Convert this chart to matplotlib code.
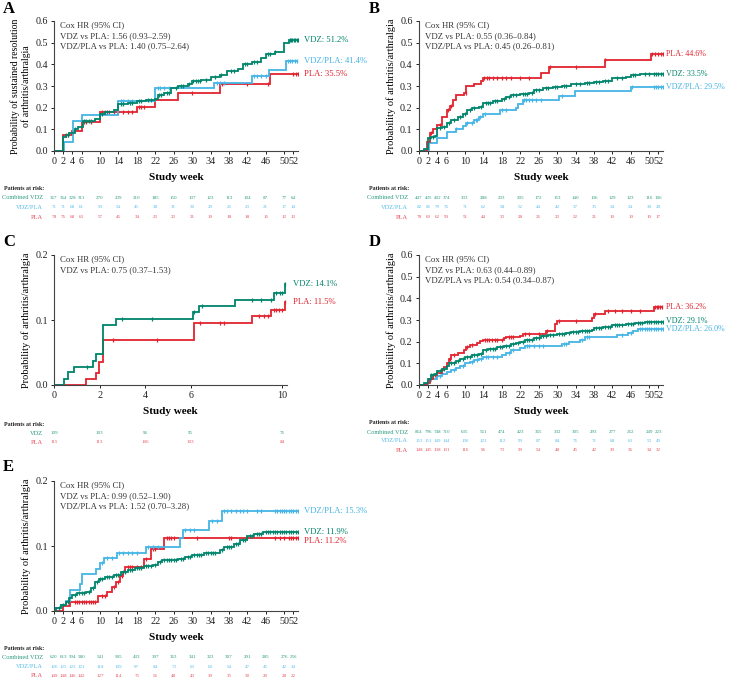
import numpy as np
import matplotlib
matplotlib.use("Agg")
import matplotlib.pyplot as plt
from matplotlib.transforms import blended_transform_factory

plt.rcParams['font.family'] = ['Liberation Serif', 'DejaVu Serif']

GREEN = '#00846b'
BLUE = '#45b4e6'
RED = '#e2232f'
TXT = '#333333'

# ---------------- Panel A ----------------
a_vdz_t = [0, 1.9, 2.5, 3.2, 4.5, 5.2, 6.2, 8.8, 10, 11, 13, 14, 16, 18, 20, 22, 22.5, 24, 25.5, 27, 29, 30, 32, 34, 36, 37.5, 40, 41, 43, 45, 46, 48, 50, 51, 53]
a_vdz_p = [0, 0.065, 0.075, 0.085, 0.10, 0.11, 0.14, 0.15, 0.17, 0.18, 0.19, 0.215, 0.22, 0.23, 0.235, 0.24, 0.26, 0.27, 0.29, 0.30, 0.31, 0.325, 0.33, 0.34, 0.35, 0.37, 0.38, 0.40, 0.41, 0.43, 0.45, 0.455, 0.50, 0.512, 0.512]
a_vdz_c = [3, 4.5, 6.5, 7, 7.5, 8, 10.5, 11.5, 14.5, 15, 16.5, 17, 18.5, 19, 20.5, 21, 22.8, 23.3, 24.5, 25, 26.5, 27.5, 28, 29.3, 30.3, 30.8, 31.3, 31.8, 33, 35, 36.3, 38.5, 39, 41.5, 42, 43.5, 44, 46.5, 47, 48, 51.2, 51.5, 51.8, 52.1, 52.4, 52.7, 53]
a_vp_t = [0, 2.1, 4.1, 6.0, 14, 22, 34.7, 43, 46.7, 50.3, 53]
a_vp_p = [0, 0.043, 0.138, 0.168, 0.23, 0.29, 0.315, 0.345, 0.375, 0.415, 0.415]
a_vp_c = [14.5, 15, 16, 17, 22.5, 23, 24, 25, 35.5, 36, 37, 43.5, 44, 45, 46, 50.8, 51.3, 51.8, 52.3, 52.8]
a_pla_t = [0, 2, 4, 6, 10, 18, 22, 27, 36, 47, 53]
a_pla_p = [0, 0.075, 0.093, 0.135, 0.18, 0.205, 0.235, 0.27, 0.31, 0.355, 0.355]
a_pla_c = [2.5, 3, 6.5, 7, 8, 10.5, 11, 12, 13, 14, 15, 16, 17, 18.5, 19, 19.5, 30, 36.5, 42, 46.5, 52, 52.5, 53]

# ---------------- Panel B ----------------
b_vdz_t = [0, 1, 2, 2.5, 3.5, 4, 5, 6, 7, 8.5, 9.5, 10.5, 11.5, 13, 14, 16, 18, 19, 20, 22, 24, 25, 27, 29, 31, 33, 36, 38, 40, 42, 45, 46, 48, 53]
b_vdz_p = [0, 0.01, 0.058, 0.065, 0.07, 0.105, 0.11, 0.13, 0.145, 0.155, 0.17, 0.19, 0.20, 0.205, 0.22, 0.23, 0.24, 0.25, 0.26, 0.265, 0.27, 0.28, 0.29, 0.295, 0.30, 0.31, 0.315, 0.32, 0.325, 0.335, 0.34, 0.35, 0.355, 0.355]
b_vdz_c = [2.3, 3, 4.5, 5.5, 6.5, 7.5, 9, 10, 11, 12, 13.5, 14.5, 15, 15.5, 16.5, 17, 18.5, 19.5, 20.5, 21, 22.5, 23, 23.5, 24.5, 25.5, 26, 27.5, 28, 29.5, 30, 31.5, 32, 34, 35, 36.5, 37, 38.5, 39, 40.5, 41, 43, 44, 46.5, 47, 49, 50, 51, 51.5, 52, 52.5, 53]
b_vp_t = [0, 2.2, 4, 6, 8, 9.5, 10.3, 12, 13, 14, 17.5, 21, 21.6, 22.5, 30.5, 33.8, 46, 53]
b_vp_p = [0, 0.035, 0.062, 0.086, 0.10, 0.115, 0.13, 0.145, 0.155, 0.17, 0.19, 0.20, 0.215, 0.235, 0.255, 0.277, 0.297, 0.297]
b_vp_c = [8, 10.5, 11.5, 12.3, 12.7, 13.3, 14.3, 18, 19, 22.8, 23.3, 23.8, 24.5, 25.5, 26.5, 31, 46.2, 51, 51.5, 52, 52.5, 53]
b_pla_t = [0, 1.8, 2.3, 3, 4, 5, 6, 6.7, 7.3, 8, 9.8, 10.3, 12, 13.5, 14, 26.5, 28.3, 40.3, 50.5, 53]
b_pla_p = [0, 0.04, 0.085, 0.10, 0.12, 0.155, 0.19, 0.21, 0.235, 0.258, 0.27, 0.30, 0.31, 0.325, 0.335, 0.362, 0.388, 0.418, 0.446, 0.446]
b_pla_c = [2.5, 4.5, 6.3, 7, 10.2, 14.2, 14.7, 15.2, 16, 17, 18, 19, 20, 22, 24, 28.5, 34, 40.5, 50.7, 51.3, 52, 52.5, 53]

# ---------------- Panel C ----------------
c_vdz_t = [0, 0.43, 0.62, 0.87, 1.72, 1.86, 2.13, 2.7, 6.1, 6.35, 7.95, 9.65, 10.12]
c_vdz_p = [0, 0.01, 0.02, 0.028, 0.037, 0.047, 0.093, 0.102, 0.112, 0.122, 0.131, 0.141, 0.155]
c_vdz_c = [1.45, 3.0, 4.3, 6.15, 6.5, 8.7, 9.1, 9.5, 9.75, 9.9, 10.0, 10.12]
c_pla_t = [0, 1.42, 1.86, 1.98, 2.15, 6.12, 8.7, 9.53, 10.12]
c_pla_p = [0, 0.009, 0.018, 0.035, 0.07, 0.096, 0.106, 0.115, 0.127]
c_pla_c = [2.6, 4.5, 6.4, 7.3, 7.45, 9.0, 9.2, 9.4, 9.65, 9.75, 9.85, 9.98, 10.12]

# ---------------- Panel D ----------------
d_vdz_t = [0, 1, 2, 2.5, 3.5, 4, 5, 6, 6.5, 8, 9, 10, 11.5, 13, 14, 15, 17, 18.5, 20, 21, 22, 23, 25, 26.5, 28, 30, 32, 33, 35, 37.5, 38, 40, 42, 45, 47, 49, 53]
d_vdz_p = [0, 0.01, 0.03, 0.044, 0.05, 0.065, 0.075, 0.09, 0.10, 0.11, 0.12, 0.13, 0.14, 0.145, 0.16, 0.165, 0.175, 0.18, 0.19, 0.195, 0.20, 0.21, 0.215, 0.225, 0.23, 0.235, 0.24, 0.245, 0.25, 0.255, 0.265, 0.27, 0.275, 0.28, 0.285, 0.29, 0.29]
d_vdz_c = [2.5, 3, 4.5, 5.5, 7, 7.5, 8.5, 9.5, 10.5, 11, 12, 12.5, 13.5, 14.5, 15.5, 16, 16.5, 17.5, 18, 19, 19.5, 20.5, 21.5, 22.5, 23.5, 24, 24.5, 25.5, 26, 27, 27.5, 28.5, 29, 30.5, 31, 31.5, 32.5, 33.5, 34, 34.5, 35.5, 36, 36.5, 37, 38.5, 39, 39.5, 40.5, 41, 41.5, 42.5, 43, 43.5, 44, 45.5, 46, 46.5, 47.5, 48, 48.5, 49.5, 50, 50.5, 51, 51.5, 52, 52.5, 53]
d_vp_t = [0, 2, 2.5, 4, 5, 6, 7, 8, 9, 10, 11, 12, 13, 14, 18, 19, 20, 22, 23, 31, 32.5, 35, 36, 43, 45.5, 46.5, 47.5, 53]
d_vp_p = [0, 0.02, 0.03, 0.04, 0.05, 0.06, 0.07, 0.08, 0.09, 0.10, 0.105, 0.115, 0.12, 0.13, 0.14, 0.15, 0.16, 0.17, 0.18, 0.19, 0.20, 0.21, 0.22, 0.23, 0.24, 0.25, 0.26, 0.26]
d_vp_c = [4.5, 7.5, 9.5, 11.5, 12.5, 13.5, 14.5, 15, 16, 17, 19.5, 20.5, 23.5, 24, 25, 26, 27, 31.5, 32, 35.5, 36.5, 37, 44, 46, 48, 48.5, 49, 49.5, 50, 50.5, 51, 51.5, 52, 52.5, 53]
d_pla_t = [0, 1.5, 1.8, 2.3, 3, 4, 5, 5.5, 6, 6.5, 7, 8.5, 9.8, 10.3, 11, 12.5, 13.3, 14, 18.5, 19, 22, 22.5, 27.5, 29.5, 30, 37.5, 38, 40.5, 51, 53]
d_pla_p = [0, 0.005, 0.01, 0.03, 0.045, 0.055, 0.07, 0.085, 0.10, 0.12, 0.14, 0.15, 0.16, 0.175, 0.185, 0.195, 0.205, 0.21, 0.215, 0.22, 0.225, 0.235, 0.25, 0.28, 0.296, 0.31, 0.33, 0.343, 0.362, 0.362]
d_pla_c = [3.5, 6.8, 7.5, 10.5, 11.5, 14.3, 14.8, 15.3, 15.8, 16.5, 17, 18, 19.5, 20, 20.5, 23, 24, 26, 27.8, 30.5, 34, 38.2, 41, 42.5, 44, 46, 48, 51.2, 51.6, 52, 52.4, 52.8]

# ---------------- Panel E ----------------
e_vdz_t = [0, 0.5, 1.5, 2.5, 3.2, 4, 5, 7, 8, 9, 9.7, 11, 13, 14.5, 16, 17.5, 19.5, 21.5, 22.5, 23.5, 27, 28.5, 30, 32.5, 35.5, 36, 37, 39, 40.5, 42, 43.5, 45.5, 53]
e_vdz_p = [0, 0.005, 0.01, 0.014, 0.02, 0.025, 0.028, 0.03, 0.035, 0.045, 0.05, 0.053, 0.056, 0.06, 0.063, 0.066, 0.069, 0.071, 0.075, 0.079, 0.08, 0.083, 0.086, 0.089, 0.09, 0.094, 0.099, 0.103, 0.11, 0.116, 0.119, 0.121, 0.121]
e_vdz_c = [1, 2, 3, 4.5, 5.5, 6, 6.5, 7.5, 8.5, 9.3, 10, 10.5, 11.5, 12, 12.5, 13.5, 14, 15, 15.5, 16.5, 17, 18, 18.5, 19, 20, 20.5, 21, 22, 23, 24, 24.5, 25, 25.5, 26, 26.5, 27.5, 28, 29, 29.5, 30.5, 31, 31.5, 32, 33, 33.5, 34, 34.5, 35, 36.5, 37.5, 38, 38.5, 39.5, 40, 41, 41.5, 42.5, 43, 44, 44.5, 45, 46, 46.5, 47, 47.5, 48, 48.5, 49, 49.5, 50, 50.5, 51, 51.5, 52, 52.5, 53]
e_vp_t = [0, 0.5, 1.5, 2.5, 3.5, 5.6, 6.1, 9.1, 10, 10.8, 13.7, 19.9, 27.4, 28, 33.7, 36.5, 53]
e_vp_p = [0, 0.005, 0.01, 0.016, 0.033, 0.041, 0.057, 0.065, 0.074, 0.081, 0.089, 0.098, 0.113, 0.124, 0.138, 0.154, 0.154]
e_vp_c = [10.5, 11.5, 12.5, 14.2, 15, 16, 17, 18, 20.5, 21.5, 22.5, 28.5, 29.5, 30.5, 34.3, 35.5, 37, 37.5, 38.5, 39.5, 40.5, 41, 42, 44, 45, 48, 48.5, 49, 49.5, 50, 50.5, 51, 51.5, 52, 52.5, 53]
e_pla_t = [0, 2, 3.5, 9.5, 11.5, 12.5, 13.5, 14.3, 15, 15.5, 19.5, 21, 24, 53]
e_pla_p = [0, 0.007, 0.014, 0.023, 0.03, 0.037, 0.045, 0.054, 0.06, 0.067, 0.08, 0.095, 0.112, 0.112]
e_pla_c = [4.5, 5, 5.5, 6, 6.5, 7, 7.5, 8, 8.5, 9, 10.5, 11, 13, 14, 14.8, 16, 16.5, 17, 18, 19, 20, 21.5, 22, 24.5, 25, 25.5, 26, 31, 38, 38.5, 42, 48, 49, 50, 51, 51.5, 52, 52.5, 53]

# ---------------- risk tables ----------------
wk_times = [0, 2, 4, 6, 10, 14, 18, 22, 26, 30, 34, 38, 42, 46, 50, 52]
a_risk_vdz = [367, 364, 328, 311, 270, 239, 210, 185, 150, 137, 123, 113, 104, 87, 77, 64]
a_risk_vp = [71, 71, 68, 61, 59, 54, 45, 38, 31, 30, 29, 26, 23, 21, 17, 14]
a_risk_pla = [78, 76, 68, 63, 57, 46, 34, 23, 23, 21, 19, 18, 18, 16, 13, 13]
b_risk_vdz = [447, 435, 402, 374, 333, 288, 233, 205, 172, 153, 140, 136, 129, 123, 116, 106]
b_risk_vp = [82, 81, 79, 76, 71, 62, 58, 52, 44, 42, 37, 35, 34, 34, 30, 28]
b_risk_pla = [78, 69, 62, 59, 51, 44, 33, 28, 26, 23, 22, 21, 19, 19, 19, 17]
c_times = [0, 2, 4, 6, 10]
c_risk_vdz = [109, 103, 96, 95, 76]
c_risk_pla = [115, 113, 106, 103, 84]
d_risk_vdz = [814, 796, 748, 710, 635, 561, 474, 423, 365, 332, 305, 293, 277, 262, 249, 223]
d_risk_vp = [153, 151, 149, 144, 136, 123, 112, 99, 87, 84, 76, 71, 68, 63, 53, 49]
d_risk_pla = [148, 145, 138, 131, 116, 96, 73, 59, 54, 48, 45, 42, 39, 36, 34, 32]
e_risk_vdz = [620, 613, 594, 580, 541, 505, 433, 397, 363, 341, 323, 307, 291, 285, 276, 256]
e_risk_vp = [126, 125, 122, 121, 118, 109, 97, 84, 73, 63, 60, 54, 47, 45, 42, 34]
e_risk_pla = [149, 148, 146, 142, 127, 114, 75, 56, 48, 43, 39, 35, 30, 29, 28, 22]


def km(ax, t, p, c, color):
    t = np.array(t)
    p = np.array(p)
    ax.step(t, p, where='post', color=color, lw=1.3, solid_joinstyle='miter')
    idx = np.searchsorted(t, c, side='right') - 1
    ax.plot(c, p[idx], ls='none', marker='|', ms=3.2, mew=0.9, color=color)


def setup(ax, ymax, xmax, xticks, ylabel, ylfs=7.5):
    ax.set_xlim(0, xmax)
    ax.set_ylim(0, ymax)
    ax.set_xticks(xticks)
    yt = np.arange(0, ymax + 0.001, 0.1)
    ax.set_yticks(yt)
    ax.set_yticklabels([f'{v:.1f}' for v in yt])
    for s in ['top', 'right']:
        ax.spines[s].set_visible(False)
    for s in ['left', 'bottom']:
        ax.spines[s].set_linewidth(0.8)
        ax.spines[s].set_color('#444444')
    ax.tick_params(labelsize=7.3, length=2.5, width=0.7, pad=2, colors='#222222')
    ax.set_xlabel('Study week', fontsize=8, fontweight='bold', labelpad=5)
    ax.set_ylabel(ylabel, fontsize=ylfs, labelpad=3)


def hr_text(ax, lines):
    for i, s in enumerate(lines):
        ax.text(0.025, 0.965 - i * 0.078, s, transform=ax.transAxes,
                fontsize=6.3, color=TXT, va='center')


def end_labels(ax, labels, fs=6.2, dx=1.025):
    for s, y, col in labels:
        ax.text(dx, y, s, transform=blended_transform_factory(ax.transAxes, ax.transData),
                fontsize=fs, color=col, va='center')


def risk(ax, times, rows, ytop, step):
    tr = blended_transform_factory(ax.transData, fig.transFigure)
    trf = fig.transFigure
    x0 = ax.get_position().x0
    ax.text(x0 - 50 / W, (H - ytop) / H, 'Patients at risk:', transform=trf, fontsize=4.3,
            fontweight='bold', color='#222222', va='center')
    x_lab = x0 - 11 / W
    for k, (name, vals, col) in enumerate(rows):
        yy = (H - ytop - (k + 1) * step) / H
        ax.text(x_lab, yy, name, transform=trf, fontsize=4.6, color=col,
                ha='right', va='center')
        for tt, v in zip(times, vals):
            ax.text(tt, yy, str(v), transform=tr, fontsize=3.6, color=col,
                    ha='center', va='center')


W, H = 729, 679
fig = plt.figure(figsize=(W / 100, H / 100), dpi=100)

def axes_px(x0, x1, ytop, ybot):
    return fig.add_axes([x0 / W, (H - ybot) / H, (x1 - x0) / W, (ybot - ytop) / H])

xt52 = [0, 2, 4, 6, 10, 14, 18, 22, 26, 30, 34, 38, 42, 46, 50, 52]
ylab = 'Probability of arthritis/arthralgia'

# A
axA = axes_px(54, 298, 21, 151)
setup(axA, 0.6, 53, xt52, 'Probability of sustained resolution\nof arthritis/arthralgia', 7)
km(axA, a_pla_t, a_pla_p, a_pla_c, RED)
km(axA, a_vp_t, a_vp_p, a_vp_c, BLUE)
km(axA, a_vdz_t, a_vdz_p, a_vdz_c, GREEN)
hr_text(axA, ['Cox HR (95% CI)', 'VDZ vs PLA: 1.56 (0.93–2.59)', 'VDZ/PLA vs PLA: 1.40 (0.75–2.64)'])
end_labels(axA, [('VDZ: 51.2%', 0.512, GREEN), ('VDZ/PLA: 41.4%', 0.415, BLUE), ('PLA: 35.5%', 0.355, RED)])

# B
axB = axes_px(419, 663, 21, 151)
setup(axB, 0.6, 53, xt52, ylab)
km(axB, b_vp_t, b_vp_p, b_vp_c, BLUE)
km(axB, b_pla_t, b_pla_p, b_pla_c, RED)
km(axB, b_vdz_t, b_vdz_p, b_vdz_c, GREEN)
hr_text(axB, ['Cox HR (95% CI)', 'VDZ vs PLA: 0.55 (0.36–0.84)', 'VDZ/PLA vs PLA: 0.45 (0.26–0.81)'])
end_labels(axB, [('PLA: 44.6%', 0.446, RED), ('VDZ: 33.5%', 0.355, GREEN), ('VDZ/PLA: 29.5%', 0.297, BLUE)], 5.8, 1.012)

# C
axC = axes_px(54, 287, 255, 385)
setup(axC, 0.2, 10.22, [0, 2, 4, 6, 10], ylab)
km(axC, c_pla_t, c_pla_p, c_pla_c, RED)
km(axC, c_vdz_t, c_vdz_p, c_vdz_c, GREEN)
hr_text(axC, ['Cox HR (95% CI)', 'VDZ vs PLA: 0.75 (0.37–1.53)'])
end_labels(axC, [('VDZ: 14.1%', 0.155, GREEN), ('PLA: 11.5%', 0.127, RED)])

# D
axD = axes_px(419, 663, 255, 385)
setup(axD, 0.6, 53, xt52, ylab)
km(axD, d_vp_t, d_vp_p, d_vp_c, BLUE)
km(axD, d_pla_t, d_pla_p, d_pla_c, RED)
km(axD, d_vdz_t, d_vdz_p, d_vdz_c, GREEN)
hr_text(axD, ['Cox HR (95% CI)', 'VDZ vs PLA: 0.63 (0.44–0.89)', 'VDZ/PLA vs PLA: 0.54 (0.34–0.87)'])
end_labels(axD, [('PLA: 36.2%', 0.362, RED), ('VDZ: 29.1%', 0.294, GREEN), ('VDZ/PLA: 26.0%', 0.258, BLUE)], 5.8, 1.012)

# E
axE = axes_px(54, 298, 481, 611)
setup(axE, 0.2, 53, xt52, ylab)
km(axE, e_pla_t, e_pla_p, e_pla_c, RED)
km(axE, e_vp_t, e_vp_p, e_vp_c, BLUE)
km(axE, e_vdz_t, e_vdz_p, e_vdz_c, GREEN)
hr_text(axE, ['Cox HR (95% CI)', 'VDZ vs PLA: 0.99 (0.52–1.90)', 'VDZ/PLA vs PLA: 1.52 (0.70–3.28)'])
end_labels(axE, [('VDZ/PLA: 15.3%', 0.154, BLUE), ('VDZ: 11.9%', 0.121, GREEN), ('PLA: 11.2%', 0.108, RED)])

# risk tables
RG, RB, RR = '#2a9a80', '#55bde9', '#e8505a'
risk(axA, wk_times, [('Combined VDZ', a_risk_vdz, RG), ('VDZ/PLA', a_risk_vp, RB), ('PLA', a_risk_pla, RR)], 188, 9.7)
risk(axB, wk_times, [('Combined VDZ', b_risk_vdz, RG), ('VDZ/PLA', b_risk_vp, RB), ('PLA', b_risk_pla, RR)], 188, 9.7)
risk(axC, c_times, [('VDZ', c_risk_vdz, RG), ('PLA', c_risk_pla, RR)], 424, 9.2)
risk(axD, wk_times, [('Combined VDZ', d_risk_vdz, RG), ('VDZ/PLA', d_risk_vp, RB), ('PLA', d_risk_pla, RR)], 423, 9.0)
risk(axE, wk_times, [('Combined VDZ', e_risk_vdz, RG), ('VDZ/PLA', e_risk_vp, RB), ('PLA', e_risk_pla, RR)], 648, 9.3)

# panel letters
for s, x, y in [('A', 3, 9), ('B', 369, 9), ('C', 3, 242), ('D', 369, 242), ('E', 3, 467)]:
    fig.text(x / W, (H - y) / H, s, fontsize=12, fontweight='bold', va='center')

fig.savefig('out.png', dpi=100)
